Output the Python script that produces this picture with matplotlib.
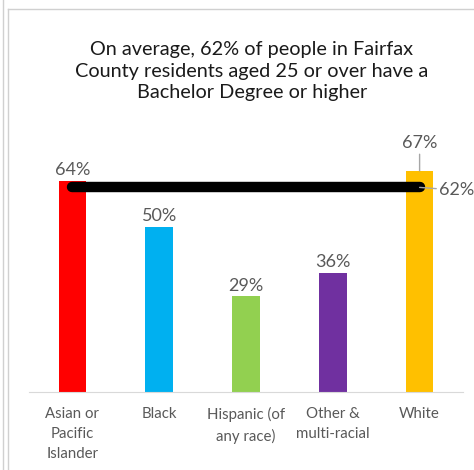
import matplotlib.pyplot as plt
from matplotlib.lines import Line2D

# data
groups = ["Asian or\nPacific\nIslander", "Black", "Hispanic (of\nany race)",
          "Other &\nmulti-racial", "White"]
pct = [64, 50, 29, 36, 67]
colors = ["#FF0000", "#00B0F0", "#92D050", "#7030A0", "#FFC000"]
average = 62

plt.rcParams['font.family'] = ['Lato', 'DejaVu Sans']

fig = plt.figure(figsize=(4.74, 4.70), dpi=100)
ax = fig.add_axes([29/474, 78/470, 434/474, 252/470])

x = list(range(len(groups)))
ax.bar(x, pct, width=0.32, color=colors, zorder=2)
ax.set_xlim(-0.5, 4.5)
ax.set_ylim(0, 252/3.3)

# data labels
for i, v in enumerate(pct):
    if i == 4:
        continue
    ax.annotate(f"{v}%", (i, v), xytext=(0, 2), textcoords="offset points",
                ha="center", va="bottom", fontsize=13, color="#595959")
ax.annotate(f"{pct[4]}%", (4, pct[4]), xytext=(0, 14), textcoords="offset points",
            ha="center", va="bottom", fontsize=13, color="#595959",
            arrowprops=dict(arrowstyle="-", color="#A6A6A6", lw=1, shrinkA=0, shrinkB=0))

# average line
ax.plot([0.0, 4.0], [average, average], color="black", lw=7.5,
        solid_capstyle="round", zorder=3)
ax.annotate(f"{average}%", (4.0, average), xytext=(14, -2), textcoords="offset points",
            ha="left", va="center", fontsize=13, color="#595959",
            annotation_clip=False,
            arrowprops=dict(arrowstyle="-", color="#A6A6A6", lw=1, shrinkA=0, shrinkB=0))

ax.set_xticks(x)
ax.set_xticklabels(groups, fontsize=10.8, color="#595959", linespacing=1.55, va="top")
ax.tick_params(axis="x", length=0, pad=11)
ax.set_yticks([])
for s in ["left", "right", "top"]:
    ax.spines[s].set_visible(False)
ax.spines["bottom"].set_color("#D9D9D9")

fig.text(252/474, 1 - 71/470,
         "On average, 62% of people in Fairfax\nCounty residents aged 25 or over have a\nBachelor Degree or higher",
         ha="center", va="center", fontsize=14.3, color="#1a1a1a", linespacing=1.35)

# frame lines
fig.add_artist(Line2D([3/474, 3/474], [0, 1], color="#D0D0D0", lw=1))
fig.add_artist(Line2D([8/474, 8/474], [0, 1 - 9/470], color="#D0D0D0", lw=1))
fig.add_artist(Line2D([8/474, 1], [1 - 9/470, 1 - 9/470], color="#D0D0D0", lw=1))

fig.savefig("out.png", dpi=100)
